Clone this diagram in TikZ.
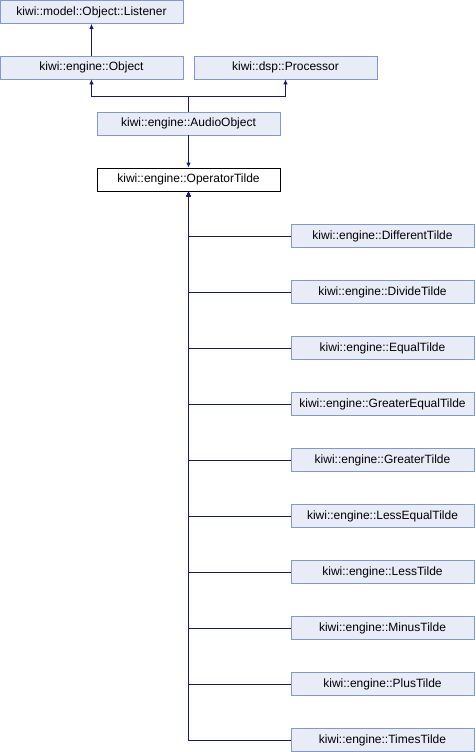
\documentclass[tikz,border=0pt]{standalone}
\usepackage{fontspec}
\setmainfont{Liberation Sans}
\usepackage{tikz}
\usetikzlibrary{arrows.meta}
\definecolor{boxfill}{HTML}{E8ECF6}
\definecolor{boxline}{HTML}{8497CE}
\definecolor{linkblue}{HTML}{16168A}

\begin{document}
\begin{tikzpicture}[x=1pt, y=-1pt]
  \tikzstyle{base} = [draw=boxline, fill=boxfill, line width=0.8pt, minimum width=183pt, minimum height=23pt, inner sep=0pt, font=\fontsize{12}{14}\selectfont]
  \tikzstyle{current} = [base, draw=black, fill=white]
  \tikzstyle{link} = [draw=linkblue, line width=0.8pt, -{Latex[length=5pt, width=4.5pt]}]

  \useasboundingbox (0,0) rectangle (475,752);

  \node[base] (listener) at (91.5,12) {kiwi::model::Object::Listener};
  \node[base] (object) at (91.5,67.5) {kiwi::engine::Object};
  \node[base] (processor) at (285.5,67.5) {kiwi::dsp::Processor};
  \node[base] (audio) at (188.5,123.5) {kiwi::engine::AudioObject};
  \node[current] (op) at (188.5,179.5) {kiwi::engine::OperatorTilde};

  \node[base] (c1) at (382.5,236) {kiwi::engine::DifferentTilde};
  \node[base] (c2) at (382.5,292) {kiwi::engine::DivideTilde};
  \node[base] (c3) at (382.5,348) {kiwi::engine::EqualTilde};
  \node[base] (c4) at (382.5,404) {kiwi::engine::GreaterEqualTilde};
  \node[base] (c5) at (382.5,460) {kiwi::engine::GreaterTilde};
  \node[base] (c6) at (382.5,516) {kiwi::engine::LessEqualTilde};
  \node[base] (c7) at (382.5,572) {kiwi::engine::LessTilde};
  \node[base] (c8) at (382.5,628) {kiwi::engine::MinusTilde};
  \node[base] (c9) at (382.5,684) {kiwi::engine::PlusTilde};
  \node[base] (c10) at (382.5,740) {kiwi::engine::TimesTilde};

  \coordinate (j1) at (188.5,96);

  \draw[link] (object) -- (listener);
  \draw[draw=linkblue, line width=0.8pt] (audio.north) -- (j1);
  \draw[link] (j1) -| (object.south);
  \draw[link] (j1) -| (processor.south);
  \draw[link] (audio.south) -- (op.north);

  \draw[link] (c1.west) -| (op.south);
  \draw[link] (c2.west) -| (op.south);
  \draw[link] (c3.west) -| (op.south);
  \draw[link] (c4.west) -| (op.south);
  \draw[link] (c5.west) -| (op.south);
  \draw[link] (c6.west) -| (op.south);
  \draw[link] (c7.west) -| (op.south);
  \draw[link] (c8.west) -| (op.south);
  \draw[link] (c9.west) -| (op.south);
  \draw[link] (c10.west) -| (op.south);
\end{tikzpicture}
\end{document}
